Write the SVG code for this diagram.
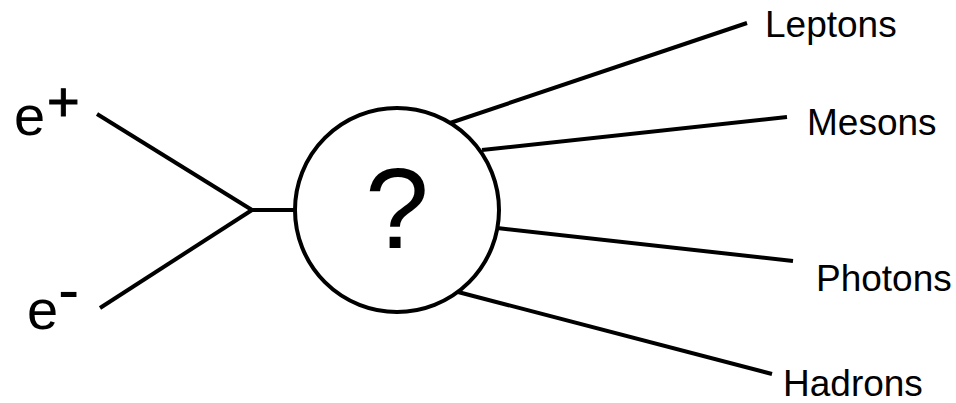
<svg xmlns="http://www.w3.org/2000/svg" width="956" height="403" viewBox="0 0 956 403">
<style>
.ln{stroke:#000;stroke-width:4;fill:none;stroke-linecap:butt}
.lbl{font-family:"Liberation Sans",Arial,sans-serif;fill:#000}
.name{font-size:37px}
</style>
<rect width="956" height="403" fill="#fff"/>
<g id="connectors">
<line class="ln" x1="97" y1="114" x2="252" y2="210"/>
<line class="ln" x1="100" y1="308" x2="252" y2="210"/>
<line class="ln" x1="252" y1="210" x2="295" y2="210"/>
<line class="ln" x1="450" y1="123" x2="747" y2="23"/>
<line class="ln" x1="482" y1="150" x2="787" y2="117"/>
<line class="ln" x1="497" y1="228" x2="793" y2="261"/>
<line class="ln" x1="458" y1="292" x2="772" y2="374"/>
</g>
<g id="eplus">
<text class="lbl" x="14" y="135" font-size="56">e</text>
<text class="lbl" x="47" y="121" font-size="56" stroke="#000" stroke-width="1">+</text>
</g>
<g id="eminus">
<text class="lbl" x="27" y="329" font-size="56">e</text>
<text class="lbl" x="58" y="312" font-size="64">-</text>
</g>
<g id="blob">
<circle cx="397" cy="210" r="102" fill="#fff" stroke="#000" stroke-width="4"/>
<text class="lbl" x="397" y="248" font-size="115" text-anchor="middle">?</text>
</g>
<g id="leptons"><text class="lbl name" x="765" y="37">Leptons</text></g>
<g id="mesons"><text class="lbl name" x="807" y="135">Mesons</text></g>
<g id="photons"><text class="lbl name" x="816" y="291">Photons</text></g>
<g id="hadrons"><text class="lbl name" x="783" y="396">Hadrons</text></g>
</svg>
